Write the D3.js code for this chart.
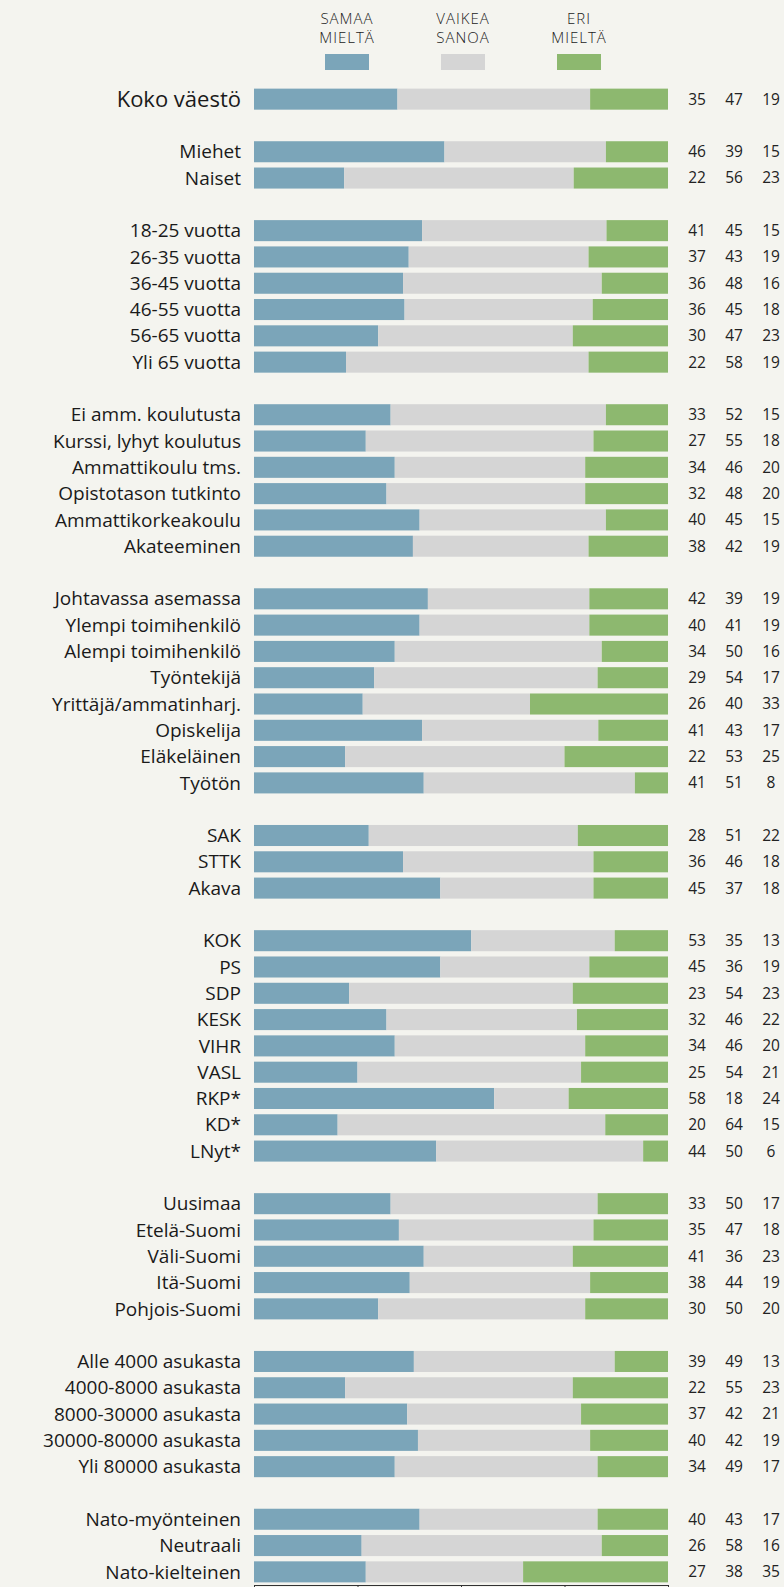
<!DOCTYPE html>
<html>
<head>
<meta charset="utf-8">
<script src="https://cdn.jsdelivr.net/npm/d3@7/dist/d3.min.js"></script>
<style>
  html, body { margin: 0; padding: 0; background: #f4f4ef; }
  svg { display: block; }
  .label { font-family: 'Open Sans', sans-serif; font-size: 19px; fill: #1a1a1a; }
  .label.total { font-size: 22px; }
  .num { font-family: 'Open Sans', sans-serif; font-size: 15.5px; fill: #222; }
  .legend-text { font-family: 'Open Sans', sans-serif; font-size: 15px; font-weight: 300; letter-spacing: 1px; fill: #222; }
  .axis path, .axis line { stroke: #333; }
</style>
</head>
<body>
<div id="chart"></div>
<script>
// rows of the chart, '' marks the blank gap between groups
const categories = [
  'Koko väestö', '',
  'Miehet', 'Naiset', '',
  '18-25 vuotta', '26-35 vuotta', '36-45 vuotta', '46-55 vuotta', '56-65 vuotta', 'Yli 65 vuotta', '',
  'Ei amm. koulutusta', 'Kurssi, lyhyt koulutus', 'Ammattikoulu tms.', 'Opistotason tutkinto', 'Ammattikorkeakoulu', 'Akateeminen', '',
  'Johtavassa asemassa', 'Ylempi toimihenkilö', 'Alempi toimihenkilö', 'Työntekijä', 'Yrittäjä/ammatinharj.', 'Opiskelija', 'Eläkeläinen', 'Työtön', '',
  'SAK', 'STTK', 'Akava', '',
  'KOK', 'PS', 'SDP', 'KESK', 'VIHR', 'VASL', 'RKP*', 'KD*', 'LNyt*', '',
  'Uusimaa', 'Etelä-Suomi', 'Väli-Suomi', 'Itä-Suomi', 'Pohjois-Suomi', '',
  'Alle 4000 asukasta', '4000-8000 asukasta', '8000-30000 asukasta', '30000-80000 asukasta', 'Yli 80000 asukasta', '',
  'Nato-myönteinen', 'Neutraali', 'Nato-kielteinen'
];

const samaa = [35, null, 46, 22, null, 41, 37, 36, 36, 30, 22, null, 33, 27, 34, 32, 40, 38, null,
  42, 40, 34, 29, 26, 41, 22, 41, null, 28, 36, 45, null, 53, 45, 23, 32, 34, 25, 58, 20, 44, null,
  33, 35, 41, 38, 30, null, 39, 22, 37, 40, 34, null, 40, 26, 27];
const vaikea = [47, null, 39, 56, null, 45, 43, 48, 45, 47, 58, null, 52, 55, 46, 48, 45, 42, null,
  39, 41, 50, 54, 40, 43, 53, 51, null, 51, 46, 37, null, 35, 36, 54, 46, 46, 54, 18, 64, 50, null,
  50, 47, 36, 44, 50, null, 49, 55, 42, 42, 49, null, 43, 58, 38];
const eri = [19, null, 15, 23, null, 15, 19, 16, 18, 23, 19, null, 15, 18, 20, 20, 15, 19, null,
  19, 19, 16, 17, 33, 17, 25, 8, null, 22, 18, 18, null, 13, 19, 23, 22, 20, 21, 24, 15, 6, null,
  17, 18, 23, 19, 20, null, 13, 23, 21, 19, 17, null, 17, 16, 35];

const seriesKeys = ['samaa', 'vaikea', 'eri'];
const legendLabels = [['SAMAA', 'MIELTÄ'], ['VAIKEA', 'SANOA'], ['ERI', 'MIELTÄ']];
const colors = ['#7ba5b9', '#d5d5d5', '#8db86f'];
const axisTicks = [0, 25, 50, 75, 100];

const width = 784;
const height = 1587;

const rows = categories.map((name, i) => ({
  id: i,
  name,
  samaa: samaa[i],
  vaikea: vaikea[i],
  eri: eri[i]
}));
const dataRows = rows.filter(d => d.name !== '');

// bars are shown as shares of the row total
const shareRows = dataRows.map(d => {
  const total = d.samaa + d.vaikea + d.eri;
  return { id: d.id, name: d.name, samaa: d.samaa / total * 100, vaikea: d.vaikea / total * 100, eri: d.eri / total * 100 };
});

const stacked = d3.stack().keys(seriesKeys)(shareRows);

const x = d3.scaleLinear().domain([0, 100]).range([254, 668]);
const y = d3.scaleBand()
  .domain(rows.map(d => d.id))
  .range([86, 1585])
  .paddingInner(0.2)
  .paddingOuter(0.1);

const svg = d3.select('#chart')
  .append('svg')
  .attr('width', width)
  .attr('height', height);

// legend
const legendX = d3.scalePoint().domain(seriesKeys).range([347, 579]);
const legend = svg.append('g').classed('legend', true)
  .selectAll('g')
  .data(seriesKeys)
  .enter()
  .append('g')
  .attr('transform', d => `translate(${legendX(d)},0)`);

legend.append('text')
  .classed('legend-text', true)
  .attr('text-anchor', 'middle')
  .selectAll('tspan')
  .data((d, i) => legendLabels[i])
  .enter()
  .append('tspan')
  .attr('x', 0)
  .attr('y', (d, i) => 24 + i * 19)
  .text(d => d);

legend.append('rect')
  .attr('x', -22)
  .attr('y', 54)
  .attr('width', 44)
  .attr('height', 16)
  .attr('fill', (d, i) => colors[i]);

// bars
svg.append('g')
  .selectAll('g')
  .data(stacked)
  .enter()
  .append('g')
  .attr('fill', (d, i) => colors[i])
  .selectAll('rect')
  .data(d => d)
  .enter()
  .append('rect')
  .attr('x', d => x(d[0]))
  .attr('width', d => x(d[1]) - x(d[0]))
  .attr('y', d => y(d.data.id))
  .attr('height', y.bandwidth());

// row labels
svg.append('g')
  .selectAll('text')
  .data(dataRows)
  .enter()
  .append('text')
  .classed('label', true)
  .classed('total', d => d.id === 0)
  .attr('x', 241)
  .attr('y', d => y(d.id) + y.bandwidth() / 2)
  .attr('dy', '0.35em')
  .attr('text-anchor', 'end')
  .text(d => d.name);

// value columns
const colX = d3.scalePoint().domain(seriesKeys).range([697, 771]);
seriesKeys.forEach(key => {
  svg.append('g')
    .selectAll('text')
    .data(dataRows)
    .enter()
    .append('text')
    .classed('num', true)
    .attr('x', colX(key))
    .attr('y', d => y(d.id) + y.bandwidth() / 2)
    .attr('dy', '0.35em')
    .attr('text-anchor', 'middle')
    .text(d => d[key]);
});

// axis at the bottom, its labels fall below the picture
svg.append('g')
  .classed('axis', true)
  .attr('transform', 'translate(0,1585)')
  .call(d3.axisBottom(x).tickValues(axisTicks).tickFormat('').tickSizeOuter(0).tickSize(6));
</script>
</body>
</html>
